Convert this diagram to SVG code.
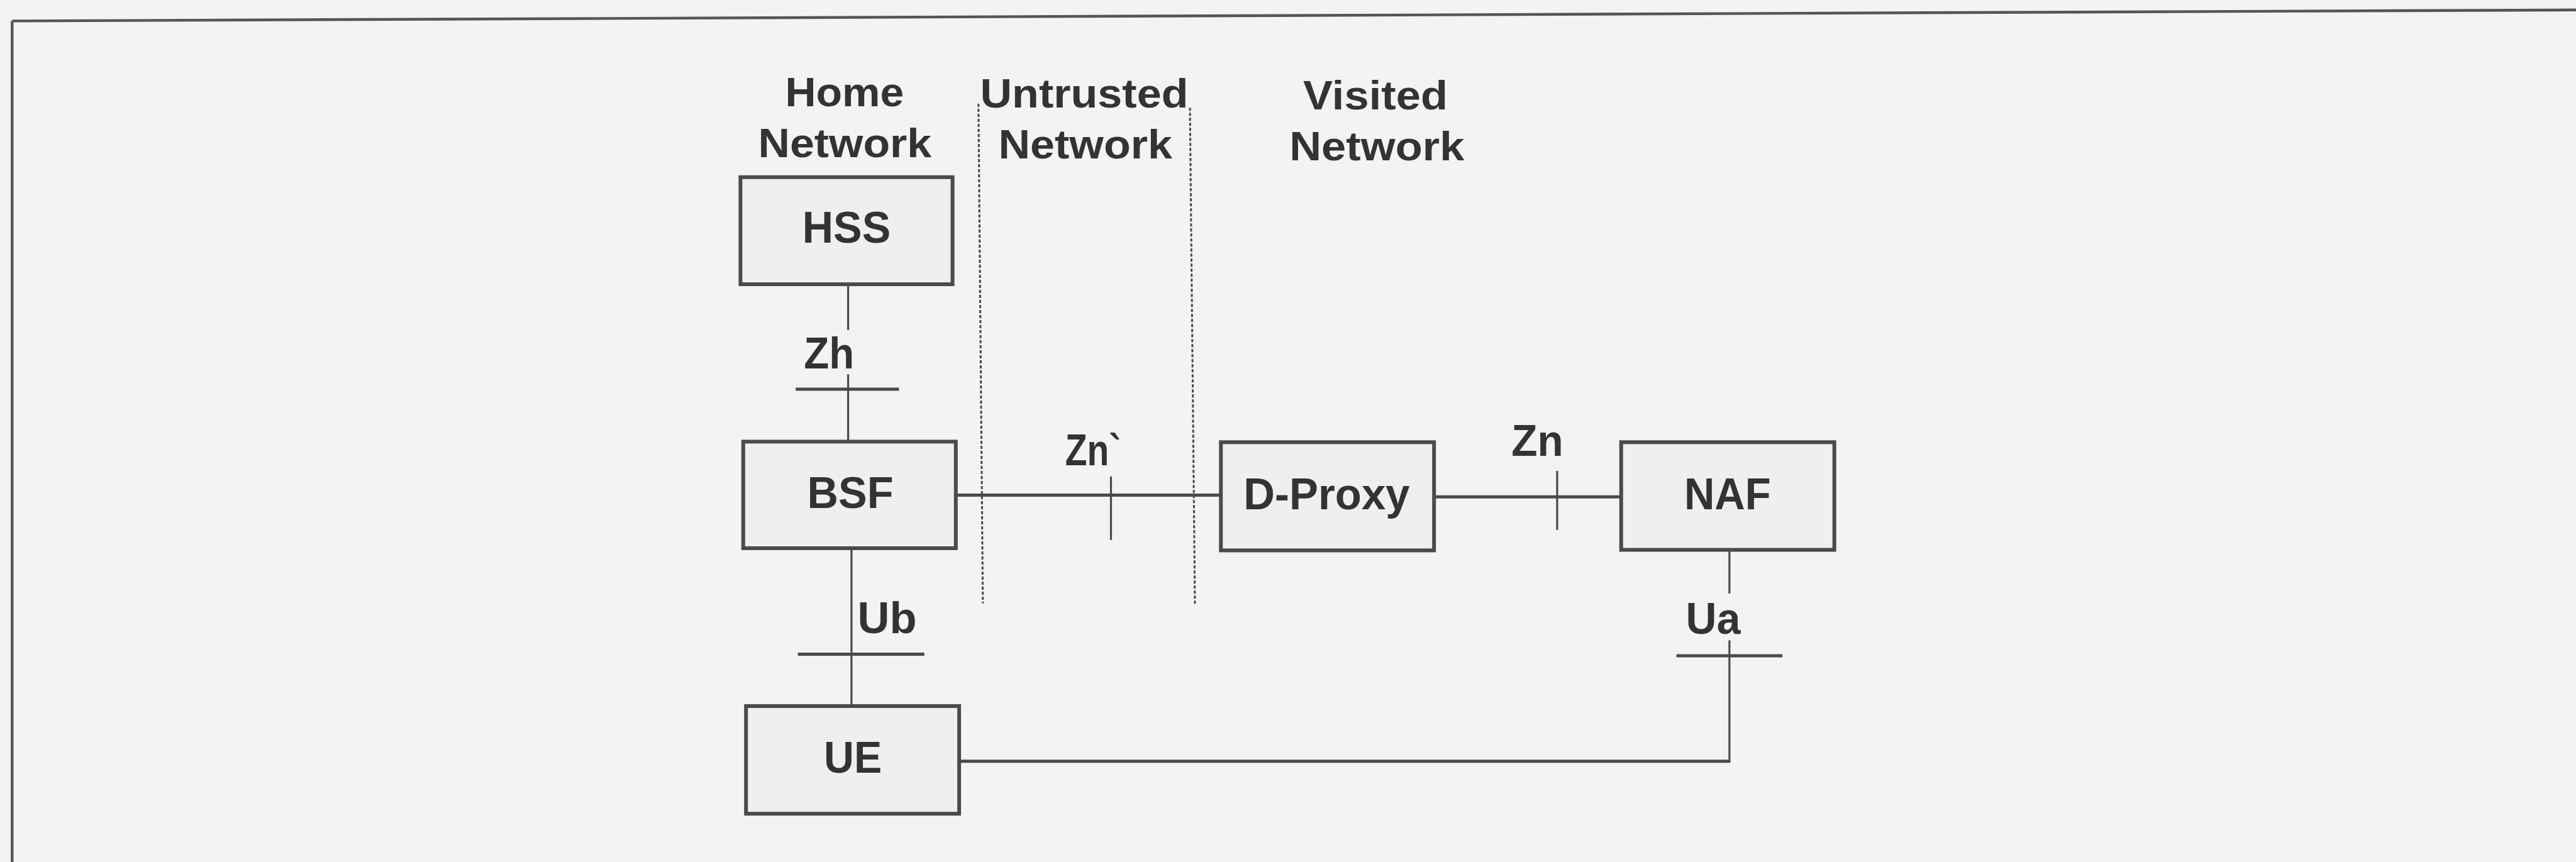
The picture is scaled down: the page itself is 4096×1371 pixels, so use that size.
<svg xmlns="http://www.w3.org/2000/svg" width="4096" height="1371" viewBox="0 0 4096 1371">
  <style>
    .bg { fill: #f3f3f3; }
    .frame { stroke: #555555; stroke-width: 4.4; fill: none; }
    .box { fill: #efefef; stroke: #4a4a4a; stroke-width: 6; }
    .hl { stroke: #4a4a4a; stroke-width: 5; fill: none; }
    .vl { stroke: #4a4a4a; stroke-width: 3.2; fill: none; }
    .dash { stroke: #4a4a4a; stroke-width: 3; stroke-dasharray: 5 3; fill: none; }
    text { font-family: "Liberation Sans", Arial, sans-serif; font-weight: bold; fill: #333333; }
    .hdr { font-size: 65px; text-anchor: middle; }
    .lbl { font-size: 71px; text-anchor: middle; }
    .ifc { font-size: 70px; }
  </style>
  <rect class="bg" x="0" y="0" width="4096" height="1371"/>
  <g id="frame">
    <line class="frame" x1="19.3" y1="33.4" x2="4096" y2="15.8"/>
    <line class="frame" x1="19.3" y1="33.4" x2="19.3" y2="1371"/>
  </g>
  <g id="headers">
    <text class="hdr" x="1342.9" y="168.6" textLength="188.8" lengthAdjust="spacingAndGlyphs">Home</text>
    <text class="hdr" x="1343.3" y="250.2" textLength="275.7" lengthAdjust="spacingAndGlyphs">Network</text>
    <text class="hdr" x="1724" y="171.2" textLength="331" lengthAdjust="spacingAndGlyphs">Untrusted</text>
    <text class="hdr" x="1725.7" y="252" textLength="276.6" lengthAdjust="spacingAndGlyphs">Network</text>
    <text class="hdr" x="2187.1" y="173.8" textLength="230" lengthAdjust="spacingAndGlyphs">Visited</text>
    <text class="hdr" x="2189.3" y="254.6" textLength="278.3" lengthAdjust="spacingAndGlyphs">Network</text>
  </g>
  <g id="boundaries">
    <line class="dash" x1="1555.8" y1="165.1" x2="1562.8" y2="959.7"/>
    <line class="dash" x1="1892.1" y1="171.2" x2="1900" y2="963.2"/>
  </g>
  <g id="connectors">
    <line class="vl" x1="1348.6" y1="452.2" x2="1348.6" y2="525"/>
    <line class="vl" x1="1348.6" y1="595.3" x2="1348.6" y2="702.4"/>
    <line class="hl" x1="1265.2" y1="619" x2="1429.4" y2="619"/>
    <line class="vl" x1="1353.9" y1="871.9" x2="1353.9" y2="1123"/>
    <line class="hl" x1="1268.7" y1="1040.4" x2="1469.8" y2="1040.4"/>
    <line class="hl" x1="1519.8" y1="787.6" x2="1941.3" y2="787.6"/>
    <line class="vl" x1="1766.5" y1="757.7" x2="1766.5" y2="858.7"/>
    <line class="hl" x1="2280.2" y1="790.2" x2="2577.8" y2="790.2"/>
    <line class="vl" x1="2476" y1="748.9" x2="2476" y2="842.9"/>
    <line class="vl" x1="2749.9" y1="874.5" x2="2749.9" y2="943.9"/>
    <line class="vl" x1="2749.9" y1="1018.5" x2="2749.9" y2="1210.8"/>
    <line class="hl" x1="1525.1" y1="1210.8" x2="2751.5" y2="1210.8"/>
    <line class="hl" x1="2665.6" y1="1043.1" x2="2834.2" y2="1043.1"/>
    <text class="ifc" x="1318.3" y="585.6" text-anchor="middle" textLength="79.9" lengthAdjust="spacingAndGlyphs">Zh</text>
    <text class="ifc" x="1693.7" y="740.2" textLength="88.7" lengthAdjust="spacingAndGlyphs">Zn`</text>
    <text class="ifc" x="2444.4" y="725.2" text-anchor="middle" textLength="82.5" lengthAdjust="spacingAndGlyphs">Zn</text>
    <text class="ifc" x="1410.5" y="1007.1" text-anchor="middle" textLength="94" lengthAdjust="spacingAndGlyphs">Ub</text>
    <text class="ifc" x="2724" y="1008" text-anchor="middle" textLength="86.9" lengthAdjust="spacingAndGlyphs">Ua</text>
  </g>
  <g id="HSS">
    <rect class="box" x="1177.4" y="281.8" width="337.2" height="170.3"/>
    <text class="lbl" x="1346" y="386.3" textLength="140.5" lengthAdjust="spacingAndGlyphs">HSS</text>
  </g>
  <g id="BSF">
    <rect class="box" x="1181.8" y="702.4" width="338" height="169.5"/>
    <text class="lbl" x="1352" y="807.8" textLength="137" lengthAdjust="spacingAndGlyphs">BSF</text>
  </g>
  <g id="D-Proxy">
    <rect class="box" x="1941.3" y="703.3" width="338.9" height="172.1"/>
    <text class="lbl" x="2109.4" y="809.5" textLength="264.3" lengthAdjust="spacingAndGlyphs">D-Proxy</text>
  </g>
  <g id="NAF">
    <rect class="box" x="2577.8" y="703.3" width="338.9" height="171.2"/>
    <text class="lbl" x="2746.8" y="809.5" textLength="137.8" lengthAdjust="spacingAndGlyphs">NAF</text>
  </g>
  <g id="UE">
    <rect class="box" x="1186.2" y="1123" width="338.9" height="171.2"/>
    <text class="lbl" x="1356.1" y="1229.2" textLength="92.2" lengthAdjust="spacingAndGlyphs">UE</text>
  </g>
</svg>
